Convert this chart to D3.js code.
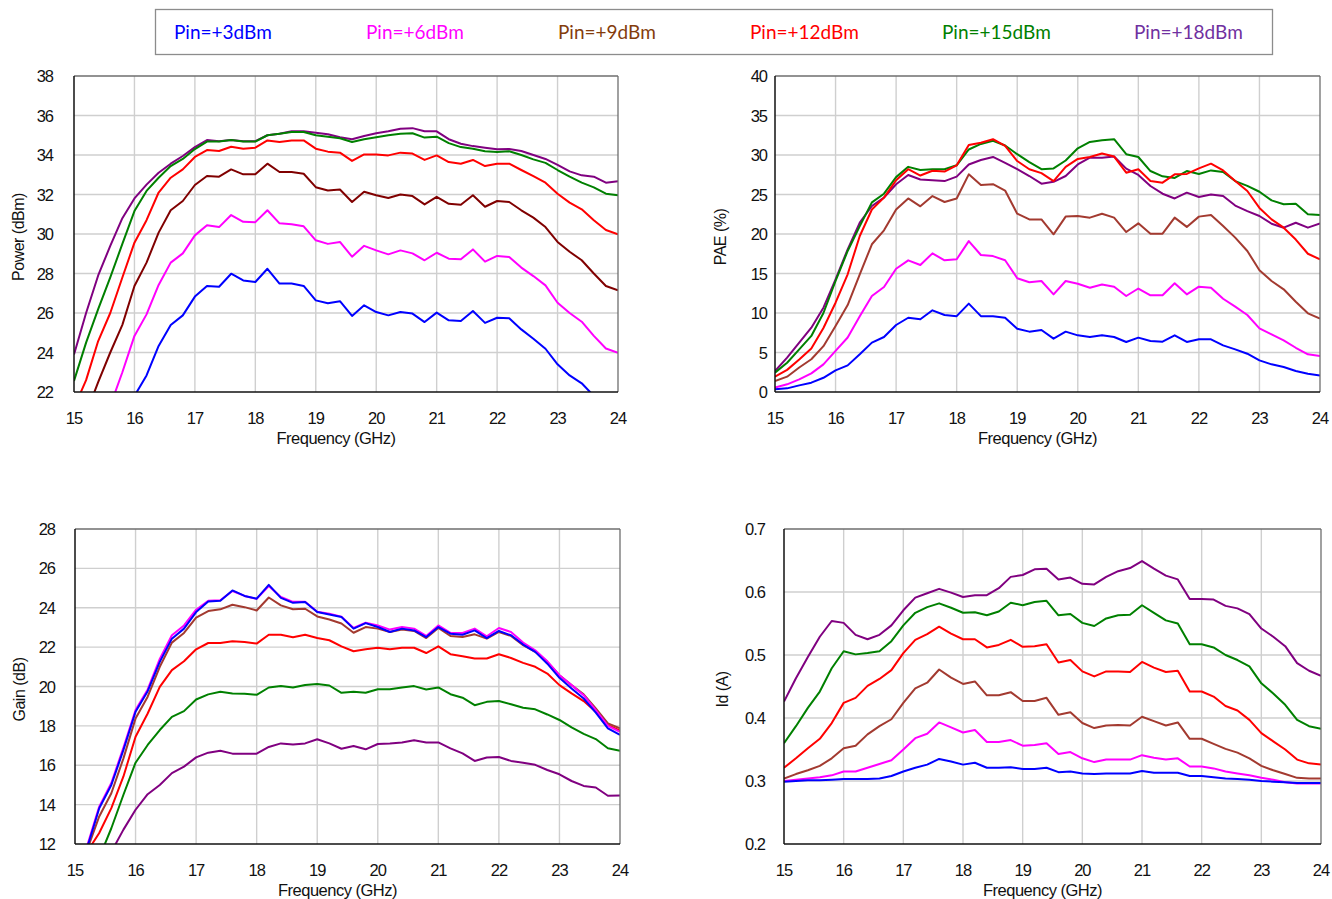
<!DOCTYPE html>
<html><head><meta charset="utf-8">
<script src="https://cdn.jsdelivr.net/npm/d3@7"></script>
<style>body{margin:0;background:#fff}svg{display:block}</style>
</head><body>
<svg id="c" width="1332" height="899"></svg>
<script>
// ---------- DATA ----------
const freq = [15.0,15.2,15.4,15.6,15.8,16.0,16.2,16.4,16.6,16.8,17.0,17.2,17.4,17.6,17.8,18.0,18.2,18.4,18.6,18.8,19.0,19.2,19.4,19.6,19.8,20.0,20.2,20.4,20.6,20.8,21.0,21.2,21.4,21.6,21.8,22.0,22.2,22.4,22.6,22.8,23.0,23.2,23.4,23.6,23.8,24.0];
const seriesNames = ["Pin=+3dBm","Pin=+6dBm","Pin=+9dBm","Pin=+12dBm","Pin=+15dBm","Pin=+18dBm"];

const xTicks = [15,16,17,18,19,20,21,22,23,24];
const powerTicks = [22,24,26,28,30,32,34,36,38];
const paeTicks = [0,5,10,15,20,25,30,35,40];
const gainTicks = [12,14,16,18,20,22,24,26,28];
const idTicks = [0.2,0.3,0.4,0.5,0.6,0.7];

// Power (dBm)
const power3 = [16.5,17.6,18.7,19.8,20.9,21.8,22.84,24.33,25.39,25.88,26.83,27.37,27.33,27.99,27.65,27.57,28.24,27.49,27.49,27.37,26.64,26.49,26.6,25.85,26.39,26.05,25.88,26.05,25.97,25.54,26.02,25.63,25.6,26.1,25.5,25.76,25.73,25.17,24.7,24.19,23.4,22.84,22.44,21.8,21.2,20.6];
const power6 = [17.0,18.5,19.9,21.3,23.0,24.84,25.93,27.42,28.55,29.02,29.93,30.44,30.35,30.96,30.62,30.6,31.2,30.54,30.49,30.39,29.68,29.5,29.6,28.85,29.4,29.17,28.97,29.17,29.02,28.67,29.05,28.75,28.72,29.22,28.6,28.89,28.84,28.3,27.87,27.4,26.52,26.0,25.56,24.84,24.2,23.99];
const power9 = [19.3,20.9,22.5,24.0,25.4,27.37,28.55,30.07,31.2,31.67,32.48,32.94,32.9,33.27,33.02,33.02,33.56,33.14,33.14,33.05,32.37,32.2,32.25,31.62,32.14,31.96,31.82,32.0,31.92,31.5,31.88,31.53,31.48,31.96,31.38,31.67,31.62,31.2,30.83,30.35,29.6,29.1,28.67,28.0,27.37,27.15];
const power12 = [21.2,22.6,24.58,26.0,27.8,29.56,30.7,32.1,32.85,33.27,33.9,34.25,34.2,34.42,34.32,34.37,34.74,34.66,34.74,34.74,34.32,34.17,34.12,33.7,34.03,34.03,33.98,34.12,34.07,33.75,33.98,33.64,33.56,33.75,33.44,33.56,33.56,33.24,32.93,32.6,32.04,31.59,31.25,30.7,30.2,29.98];
const power15 = [22.56,24.5,26.2,27.8,29.5,31.16,32.18,32.85,33.44,33.8,34.3,34.68,34.68,34.76,34.68,34.68,35.0,35.08,35.16,35.16,35.0,34.93,34.85,34.66,34.8,34.9,35.0,35.08,35.1,34.88,34.93,34.6,34.4,34.32,34.19,34.15,34.19,34.0,33.78,33.6,33.24,32.9,32.6,32.36,32.04,31.96];
const power18 = [23.9,26.0,27.9,29.4,30.8,31.8,32.5,33.1,33.56,33.95,34.4,34.76,34.7,34.76,34.7,34.7,35.0,35.08,35.2,35.2,35.13,35.05,34.9,34.8,34.96,35.1,35.2,35.33,35.36,35.2,35.2,34.8,34.57,34.45,34.37,34.29,34.3,34.2,34.0,33.8,33.5,33.17,32.97,32.9,32.6,32.67];

// PAE (%)
const pae3 = [0.34,0.46,0.84,1.18,1.8,2.74,3.37,4.77,6.25,6.96,8.48,9.4,9.2,10.34,9.75,9.6,11.18,9.6,9.6,9.4,8.0,7.64,7.85,6.75,7.64,7.17,6.96,7.17,6.96,6.33,6.88,6.46,6.37,7.17,6.33,6.67,6.67,5.9,5.4,4.85,4.0,3.5,3.16,2.66,2.32,2.1];
const pae6 = [0.55,0.97,1.6,2.36,3.5,5.2,6.9,9.6,12.15,13.3,15.6,16.67,16.07,17.55,16.67,16.8,19.1,17.34,17.2,16.67,14.4,13.9,14.05,12.36,14.05,13.7,13.2,13.6,13.33,12.15,13.1,12.24,12.24,13.76,12.36,13.33,13.2,11.8,10.8,9.75,8.06,7.3,6.54,5.6,4.77,4.56];
const pae9 = [1.4,1.94,3.1,4.14,5.8,8.35,11.0,14.9,18.7,20.46,23.1,24.5,23.5,24.8,24.05,24.5,27.55,26.2,26.3,25.5,22.57,21.85,21.85,19.96,22.2,22.28,22.07,22.57,22.07,20.25,21.35,20.04,20.04,22.07,20.9,22.2,22.4,21.0,19.54,17.85,15.4,14.05,13.0,11.43,9.96,9.3];
const pae12 = [1.94,2.8,4.1,5.5,8.1,11.3,14.9,19.75,23.1,24.6,26.8,28.2,27.4,28.0,27.9,28.7,31.27,31.56,32.0,31.14,29.24,28.2,27.7,26.7,28.5,29.5,29.75,30.2,29.8,27.76,28.2,26.7,26.5,27.55,27.6,28.3,28.9,28.05,26.7,25.44,23.3,21.85,20.8,19.3,17.5,16.8];
const pae15 = [2.45,3.7,5.4,7.1,10.0,14.05,17.85,21.0,24.0,25.1,27.2,28.5,28.1,28.2,28.2,28.7,30.7,31.4,31.8,31.2,30.1,29.1,28.2,28.3,29.3,30.85,31.65,31.86,32.0,30.1,29.75,27.97,27.3,27.1,27.97,27.6,28.05,27.85,26.7,26.1,25.35,24.26,23.76,23.84,22.5,22.4];
const pae18 = [2.66,4.35,6.25,8.14,10.67,14.26,18.06,21.43,23.54,24.6,26.3,27.47,26.9,26.8,26.7,27.26,28.8,29.37,29.75,29.0,28.2,27.34,26.37,26.6,27.34,28.8,29.66,29.66,29.8,28.27,27.47,26.08,25.1,24.5,25.23,24.68,25.0,24.8,23.6,22.9,22.28,21.3,20.8,21.43,20.8,21.35];

// Gain (dB)
const gain3 = [10.0,11.8,13.82,15.0,16.78,18.72,19.76,21.25,22.43,22.94,23.78,24.32,24.35,24.88,24.6,24.46,25.16,24.5,24.25,24.29,23.78,23.66,23.53,22.94,23.22,23.02,22.77,22.94,22.85,22.51,23.02,22.68,22.63,22.85,22.46,22.82,22.6,22.13,21.76,21.16,20.44,19.9,19.39,18.67,17.87,17.54];
const gain6 = [10.1,11.9,13.9,15.1,16.9,18.8,19.85,21.4,22.6,23.1,23.9,24.35,24.38,24.85,24.6,24.45,25.1,24.55,24.3,24.3,23.8,23.7,23.55,22.97,23.24,23.1,22.89,23.02,22.94,22.57,23.1,22.73,22.72,22.94,22.55,22.97,22.77,22.23,21.84,21.28,20.57,20.07,19.56,18.8,18.0,17.7];
const gain9 = [9.8,11.7,13.4,14.58,16.35,18.38,19.48,21.0,22.23,22.72,23.5,23.83,23.92,24.15,24.03,23.86,24.52,24.12,23.92,23.95,23.56,23.4,23.2,22.73,23.02,22.94,22.77,22.89,22.82,22.46,22.97,22.57,22.51,22.65,22.43,22.77,22.57,22.1,21.76,21.25,20.57,20.07,19.6,18.89,18.13,17.87];
const gain12 = [10.4,11.6,12.56,13.82,15.43,17.45,18.63,19.98,20.83,21.28,21.89,22.21,22.21,22.3,22.26,22.18,22.63,22.63,22.5,22.63,22.46,22.35,22.04,21.79,21.89,21.97,21.89,21.97,21.97,21.7,22.04,21.64,21.54,21.42,21.42,21.64,21.45,21.2,21.0,20.66,20.07,19.65,19.26,18.72,18.04,17.76];
const gain15 = [9.0,10.2,11.3,12.8,14.5,16.13,17.03,17.79,18.46,18.75,19.34,19.6,19.73,19.65,19.63,19.58,19.95,20.03,19.95,20.08,20.13,20.05,19.68,19.73,19.68,19.86,19.86,19.95,20.02,19.85,19.95,19.61,19.43,19.05,19.22,19.26,19.1,18.92,18.84,18.58,18.3,17.92,17.59,17.33,16.86,16.73];
const gain18 = [8.5,9.5,10.5,11.6,12.73,13.74,14.53,15.0,15.6,15.93,16.4,16.64,16.74,16.59,16.59,16.59,16.93,17.11,17.06,17.11,17.32,17.11,16.84,16.98,16.81,17.08,17.11,17.16,17.27,17.16,17.16,16.86,16.6,16.22,16.39,16.42,16.22,16.13,16.02,15.76,15.54,15.2,14.95,14.87,14.45,14.46];

// Id (A)
const id3 = [0.299,0.3,0.301,0.301,0.302,0.303,0.303,0.303,0.304,0.308,0.315,0.321,0.326,0.335,0.331,0.326,0.329,0.321,0.321,0.322,0.319,0.319,0.321,0.314,0.315,0.312,0.311,0.312,0.312,0.312,0.316,0.313,0.313,0.313,0.308,0.308,0.306,0.304,0.303,0.302,0.3,0.299,0.298,0.297,0.297,0.297];
const id6 = [0.3,0.302,0.304,0.306,0.309,0.315,0.315,0.321,0.327,0.333,0.35,0.368,0.375,0.393,0.385,0.377,0.381,0.362,0.362,0.365,0.356,0.357,0.36,0.343,0.346,0.336,0.33,0.334,0.334,0.334,0.341,0.337,0.334,0.336,0.323,0.323,0.32,0.315,0.312,0.309,0.305,0.302,0.298,0.296,0.296,0.296];
const id9 = [0.304,0.311,0.317,0.324,0.336,0.352,0.356,0.374,0.387,0.398,0.424,0.447,0.456,0.477,0.464,0.454,0.458,0.436,0.436,0.441,0.427,0.427,0.432,0.405,0.409,0.392,0.384,0.388,0.389,0.388,0.402,0.395,0.388,0.393,0.367,0.367,0.359,0.351,0.345,0.336,0.324,0.317,0.311,0.305,0.304,0.304];
const id12 = [0.321,0.336,0.352,0.367,0.392,0.424,0.432,0.451,0.462,0.476,0.503,0.524,0.533,0.545,0.534,0.525,0.525,0.512,0.516,0.524,0.513,0.514,0.517,0.488,0.492,0.474,0.466,0.474,0.474,0.473,0.489,0.48,0.473,0.475,0.442,0.442,0.434,0.419,0.412,0.397,0.376,0.363,0.35,0.334,0.328,0.326];
const id15 = [0.360,0.387,0.416,0.442,0.479,0.506,0.501,0.503,0.506,0.522,0.547,0.567,0.576,0.582,0.575,0.567,0.568,0.563,0.569,0.583,0.579,0.584,0.586,0.563,0.565,0.551,0.546,0.558,0.563,0.564,0.579,0.567,0.555,0.55,0.517,0.517,0.512,0.5,0.492,0.482,0.455,0.439,0.421,0.397,0.387,0.383];
const id18 = [0.426,0.463,0.497,0.529,0.554,0.551,0.532,0.525,0.532,0.547,0.571,0.591,0.598,0.605,0.599,0.592,0.595,0.595,0.606,0.624,0.627,0.636,0.637,0.62,0.623,0.613,0.612,0.624,0.633,0.638,0.649,0.637,0.626,0.62,0.589,0.589,0.588,0.578,0.574,0.565,0.542,0.529,0.514,0.487,0.475,0.467];

// ---------- STYLE / LAYOUT ----------
const legendColors = ["#0000FF","#FF00FF","#843C0C","#FF0000","#008000","#7030A0"];
const lineColors = ["#0000FF","#FF00FF","#A33A30","#FF0000","#008000","#800080"];
const powerColors = ["#0000FF","#FF00FF","#800000","#FF0000","#008000","#800080"];

const panels = [
  {title:"Power (dBm)", series:[power3,power6,power9,power12,power15,power18], ticks:powerTicks, dom:[22,38],
   colors:powerColors, l:74, r:618, t:76, b:392, labOff:21, ytx:19, fmt:d3.format("d")},
  {title:"PAE (%)", series:[pae3,pae6,pae9,pae12,pae15,pae18], ticks:paeTicks, dom:[0,40],
   colors:lineColors, l:775, r:1320, t:76, b:392, labOff:8, ytx:721, fmt:d3.format("d")},
  {title:"Gain (dB)", series:[gain3,gain6,gain9,gain12,gain15,gain18], ticks:gainTicks, dom:[12,28],
   colors:lineColors, l:75, r:620, t:529, b:844, labOff:20, ytx:20, fmt:d3.format("d")},
  {title:"Id (A)", series:[id3,id6,id9,id12,id15,id18], ticks:idTicks, dom:[0.2,0.7],
   colors:lineColors, l:784, r:1321, t:529, b:844, labOff:19, ytx:723, fmt:d3.format(".1f")}
];

const svg = d3.select("#c");
const FONT = "'Liberation Sans', Arial, sans-serif";

// Legend
const lg = svg.append("g");
lg.append("rect").attr("x",155.5).attr("y",9.5).attr("width",1117).attr("height",45)
  .attr("fill","#fff").attr("stroke","#8c8c8c").attr("stroke-width",1.3);
seriesNames.forEach((n,i)=>{
  lg.append("text").attr("x",174+i*192).attr("y",38.5).text(n)
    .attr("fill",legendColors[i]).attr("font-family","Lato, 'Open Sans', sans-serif")
    .attr("font-size",19);
});

const defs = svg.append("defs");
panels.forEach((p,pi)=>{
  const x = d3.scaleLinear().domain([15,24]).range([p.l,p.r]);
  const y = d3.scaleLinear().domain(p.dom).range([p.b,p.t]);
  const g = svg.append("g");
  // grid
  g.append("g").selectAll("line").data(xTicks.slice(1,-1)).join("line")
    .attr("x1",d=>x(d)).attr("x2",d=>x(d)).attr("y1",p.t).attr("y2",p.b)
    .attr("stroke","#cfcfcf").attr("stroke-width",1.4);
  g.append("g").selectAll("line").data(p.ticks.slice(1,-1)).join("line")
    .attr("x1",p.l).attr("x2",p.r).attr("y1",d=>y(d)).attr("y2",d=>y(d))
    .attr("stroke","#cfcfcf").attr("stroke-width",1.4);
  // clip
  defs.append("clipPath").attr("id","clip"+pi).append("rect")
    .attr("x",p.l).attr("y",p.t).attr("width",p.r-p.l).attr("height",p.b-p.t);
  const line = d3.line().x((d,i)=>x(freq[i])).y(d=>y(d));
  const lines = g.append("g").attr("clip-path",`url(#clip${pi})`);
  const order = [5,4,3,2,1,0];
  order.forEach(si=>{
    lines.append("path").datum(p.series[si]).attr("d",line)
      .attr("fill","none").attr("stroke",p.colors[si]).attr("stroke-width",2)
      .attr("stroke-linejoin","round");
  });
  // frame
  g.append("line").attr("x1",p.l).attr("x2",p.r).attr("y1",p.t).attr("y2",p.t).attr("stroke","#6e6e6e").attr("stroke-width",1.3);
  g.append("line").attr("x1",p.r).attr("x2",p.r).attr("y1",p.t).attr("y2",p.b).attr("stroke","#6e6e6e").attr("stroke-width",1.3);
  g.append("line").attr("x1",p.l).attr("x2",p.l).attr("y1",p.t).attr("y2",p.b).attr("stroke","#111").attr("stroke-width",1.5);
  g.append("line").attr("x1",p.l).attr("x2",p.r).attr("y1",p.b).attr("y2",p.b).attr("stroke","#111").attr("stroke-width",1.5);
  // y tick labels
  g.append("g").selectAll("text").data(p.ticks).join("text")
    .attr("x",p.l-p.labOff).attr("y",d=>y(d)+6).attr("text-anchor","end")
    .attr("font-family",FONT).attr("font-size",16.5).attr("letter-spacing",-1)
    .attr("fill","#111").text(d=>p.fmt(d));
  // x tick labels
  g.append("g").selectAll("text").data(xTicks).join("text")
    .attr("x",d=>x(d)).attr("y",p.b+32).attr("text-anchor","middle")
    .attr("font-family",FONT).attr("font-size",16.5).attr("letter-spacing",-1)
    .attr("fill","#111").text(d=>d);
  // x title
  g.append("text").attr("x",(p.l+p.r)/2-10).attr("y",p.b+52).attr("text-anchor","middle")
    .attr("font-family",FONT).attr("font-size",16.5).attr("letter-spacing",-0.5)
    .attr("fill","#111").text("Frequency (GHz)");
  // y title
  g.append("text").attr("transform",`translate(${p.ytx+5},${(p.t+p.b)/2+3}) rotate(-90)`)
    .attr("text-anchor","middle").attr("font-family",FONT).attr("font-size",16)
    .attr("letter-spacing",-0.5).attr("fill","#111").text(p.title);
});
</script>
</body></html>
